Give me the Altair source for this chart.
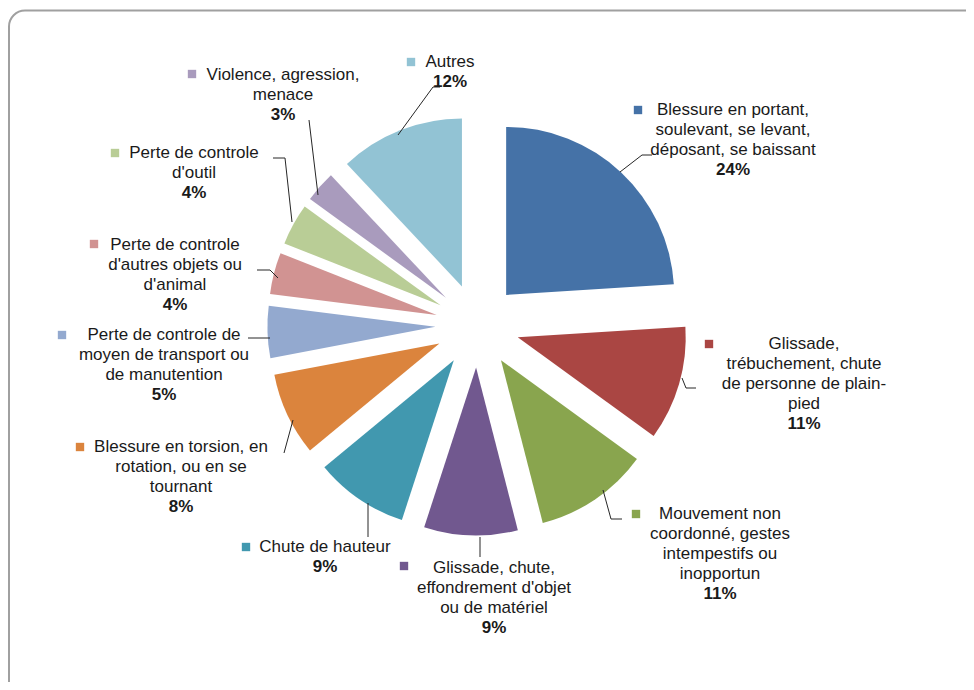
import altair as alt
import pandas as pd

# ---------------- data ----------------
CATEGORIES = [
    "Blessure en portant, soulevant, se levant, déposant, se baissant",
    "Glissade, trébuchement, chute de personne de plain-pied",
    "Mouvement non coordonné, gestes intempestifs ou inopportun",
    "Glissade, chute, effondrement d'objet ou de matériel",
    "Chute de hauteur",
    "Blessure en torsion, en rotation, ou en se tournant",
    "Perte de controle de moyen de transport ou de manutention",
    "Perte de controle d'autres objets ou d'animal",
    "Perte de controle d'outil",
    "Violence, agression, menace",
    "Autres",
]
VALUES = [24, 11, 11, 9, 9, 8, 5, 4, 4, 3, 12]
PCT_LABELS = ["24%", "11%", "11%", "9%", "9%", "8%", "5%", "4%", "4%", "3%", "12%"]
LABEL_LINES = [
    ["Blessure en portant,", "soulevant, se levant,", "déposant, se baissant"],
    ["Glissade,", "trébuchement, chute", "de personne de plain-", "pied"],
    ["Mouvement non", "coordonné, gestes", "intempestifs ou", "inopportun"],
    ["Glissade, chute,", "effondrement d'objet", "ou de matériel"],
    ["Chute de hauteur"],
    ["Blessure en torsion, en", "rotation, ou en se", "tournant"],
    ["Perte de controle de", "moyen de transport ou", "de manutention"],
    ["Perte de controle", "d'autres objets ou", "d'animal"],
    ["Perte de controle", "d'outil"],
    ["Violence, agression,", "menace"],
    ["Autres"],
]
COLORS = ["#4572A7", "#AA4643", "#89A54E", "#71588F", "#4198AF", "#DB843D",
          "#93A9CF", "#D19392", "#B9CD96", "#A99BBD", "#92C3D4"]

# ---------------- layout (page pixels) ----------------
PAGE = 8
W, H = 958, 674
CX, CY = 477.4 - PAGE, 325.5 - PAGE
RADIUS = 168
EXPLODE = 42
FONT = "Liberation Sans"
FS = 17
LH = 20

LABEL_CX = [733, 804, 720, 494, 325, 181, 164, 175, 194, 283, 450]
LABEL_Y1 = [110, 344, 514, 568, 547, 447, 335, 245, 153, 75, 62]
KEY_X = [638, 709, 636, 404, 246, 80, 62, 94, 115, 192, 411]
KEY_Y = [110, 344, 514, 566, 547, 447, 335, 244, 153, 74, 62]
LEADERS = [
    [(652, 155), (642, 155), (620, 172)],
    [(696, 388), (686, 388), (682, 378)],
    [(622, 519), (611, 519), (603, 490)],
    [(480, 557), (480, 537)],
    [(368, 537), (368, 503)],
    [(284, 453), (293, 420)],
    [(248, 338), (270, 338)],
    [(257, 270), (270, 270), (278, 278)],
    [(273, 158), (285, 158), (292, 222)],
    [(309, 120), (318, 195)],
    [(440, 87), (433, 87), (398, 135)],
]

color_scale = alt.Scale(domain=CATEGORIES, range=COLORS)

# ---------------- tables ----------------
slices = pd.DataFrame({"cat": CATEGORIES, "value": VALUES, "idx": range(len(VALUES))})

line_rows = []
for i, cat in enumerate(CATEGORIES):
    for j, t in enumerate(LABEL_LINES[i]):
        line_rows.append({"cat": cat, "text": t, "bold": False,
                          "lx": LABEL_CX[i] - PAGE, "ly": LABEL_Y1[i] - PAGE + j * LH})
    line_rows.append({"cat": cat, "text": PCT_LABELS[i], "bold": True,
                      "lx": LABEL_CX[i] - PAGE,
                      "ly": LABEL_Y1[i] - PAGE + len(LABEL_LINES[i]) * LH})
lines_df = pd.DataFrame(line_rows)

keys_df = pd.DataFrame({"cat": CATEGORIES,
                        "kx": [x - PAGE for x in KEY_X],
                        "ky": [y - PAGE for y in KEY_Y]})

lead_rows = []
for i, cat in enumerate(CATEGORIES):
    for k, (px, py) in enumerate(LEADERS[i]):
        lead_rows.append({"cat": cat, "k": k, "px": px - PAGE, "py": py - PAGE})
lead_df = pd.DataFrame(lead_rows)

# ---------------- layers ----------------
frame = alt.Chart(pd.DataFrame({"a": [0]})).mark_rect(
    filled=False, stroke="#a0a0a0", strokeWidth=2, cornerRadius=16
).encode(x=alt.value(1), x2=alt.value(975), y=alt.value(2.5), y2=alt.value(700))

pie = alt.Chart(slices).transform_window(
    end="sum(value)", sort=[alt.SortField("idx")], frame=[None, 0]
).transform_calculate(
    start="datum.end - datum.value",
    mid="(datum.end - datum.value/2)",
).transform_calculate(
    cx=f"{CX} + {EXPLODE}*sin(2*PI*datum.mid/100)",
    cy=f"{CY} - {EXPLODE}*cos(2*PI*datum.mid/100)",
).mark_arc(radius=RADIUS).encode(
    x=alt.X("cx:Q", scale=None),
    y=alt.Y("cy:Q", scale=None),
    theta=alt.Theta("start:Q", scale=alt.Scale(domain=[0, 100], range=[0, 6.283185307]), stack=None),
    theta2="end:Q",
    color=alt.Color("cat:N", scale=color_scale, legend=None),
)

leaders = alt.Chart(lead_df).mark_line(color="#262626", strokeWidth=1).encode(
    x=alt.X("px:Q", scale=None),
    y=alt.Y("py:Q", scale=None),
    detail="cat:N",
    order="k:Q",
)

keys = alt.Chart(keys_df).mark_square(size=70, opacity=1, filled=True).encode(
    x=alt.X("kx:Q", scale=None),
    y=alt.Y("ky:Q", scale=None),
    color=alt.Color("cat:N", scale=color_scale, legend=None),
)

names = alt.Chart(lines_df).transform_filter("!datum.bold").mark_text(
    font=FONT, fontSize=FS, color="#1a1a1a", align="center", baseline="middle"
).encode(x=alt.X("lx:Q", scale=None), y=alt.Y("ly:Q", scale=None), text="text:N")

pcts = alt.Chart(lines_df).transform_filter("datum.bold").mark_text(
    font=FONT, fontSize=FS, fontWeight="bold", color="#1a1a1a", align="center", baseline="middle"
).encode(x=alt.X("lx:Q", scale=None), y=alt.Y("ly:Q", scale=None), text="text:N")

chart = alt.layer(frame, pie, leaders, keys, names, pcts).properties(
    width=W, height=H, padding=0, autosize=alt.AutoSizeParams(type="none"),
    background="white",
).configure_view(stroke=None)

chart.save("out.html", embed_options={"renderer": "svg", "actions": False})
